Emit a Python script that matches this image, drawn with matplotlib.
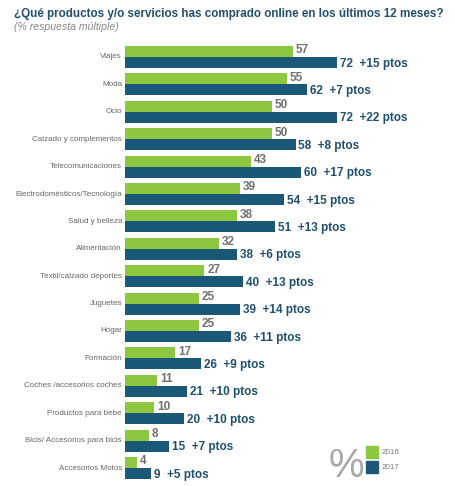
import matplotlib
matplotlib.use('Agg')
import matplotlib.pyplot as plt

plt.rcParams['font.family'] = ['Liberation Sans', 'DejaVu Sans']

categories = ['Viajes', 'Moda', 'Ocio', 'Calzado y complementos', 'Telecomunicaciones',
              'Electrodomésticos/Tecnología', 'Salud y belleza', 'Alimentación',
              'Textil/calzado deportes', 'Juguetes', 'Hogar', 'Formación',
              'Coches /accesorios coches', 'Productos para bebe',
              'Bicis/ Accesorios para bicis', 'Accesorios Motos']
values_2016 = [57, 55, 50, 50, 43, 39, 38, 32, 27, 25, 25, 17, 11, 10, 8, 4]
values_2017 = [72, 62, 72, 58, 60, 54, 51, 38, 40, 39, 36, 26, 21, 20, 15, 9]
diff_labels = ['+15 ptos', '+7 ptos', '+22 ptos', '+8 ptos', '+17 ptos', '+15 ptos',
               '+13 ptos', '+6 ptos', '+13 ptos', '+14 ptos', '+11 ptos', '+9 ptos',
               '+10 ptos', '+10 ptos', '+7 ptos', '+5 ptos']
years = ['2016', '2017']

GREEN = '#8dc63f'
BLUE = '#1b5878'
W, H = 455, 486

fig = plt.figure(figsize=(W / 100, H / 100), dpi=100)
fig.patch.set_facecolor('white')

# axes placed in pixel terms
x0, x1 = 125, 455
y0, y1 = 40, 480
ax = fig.add_axes([x0 / W, 1 - y1 / H, (x1 - x0) / W, (y1 - y0) / H])
px_per_unit = 2.94
row_px = 27.4
ax.set_xlim(0, (x1 - x0) / px_per_unit)
ax.set_ylim((y1 - 57) / row_px, (y0 - 57) / row_px)
ax.axis('off')

bh = 11 / row_px
pos = list(range(len(categories)))
ax.barh([p - bh / 2 for p in pos], values_2016, height=bh, color=GREEN)
ax.barh([p + bh / 2 for p in pos], values_2017, height=bh, color=BLUE)

for p, cat, v16, v17, d in zip(pos, categories, values_2016, values_2017, diff_labels):
    ax.text(-1, p, cat, ha='right', va='center', fontsize=5.8, color='#666666')
    ax.text(v16 + 1.0, p - bh / 2 - 0.04, str(v16), ha='left', va='center',
            fontsize=8.5, fontweight='bold', color='#707070')
    ax.text(v17 + 1.0, p + bh / 2 + 0.04, f'{v17}  {d}', ha='left', va='center',
            fontsize=8.5, fontweight='bold', color='#1e4f6d')

fig.text(14 / W, 1 - 14 / H, '¿Qué productos y/o servicios has comprado online en los últimos 12 meses?',
         fontsize=8.4, fontweight='bold', color='#24506b', va='center', ha='left')
fig.text(14 / W, 1 - 27 / H, '(% respuesta múltiple)', fontsize=7.6, style='italic',
         color='#888888', va='center', ha='left')

# legend
fig.text(346 / W, 1 - 466 / H, '%', fontsize=29, color='#a8a8a8', ha='center', va='center')
for i, (yr, col) in enumerate(zip(years, [GREEN, BLUE])):
    top = 446 + i * 15
    fig.patches.append(plt.Rectangle((366 / W, 1 - (top + 12) / H), 12 / W, 12 / H,
                                     transform=fig.transFigure, color=col))
    fig.text(382 / W, 1 - (top + 6) / H, yr, fontsize=5.8, color='#777777', va='center')

fig.savefig('out.png', dpi=100)
